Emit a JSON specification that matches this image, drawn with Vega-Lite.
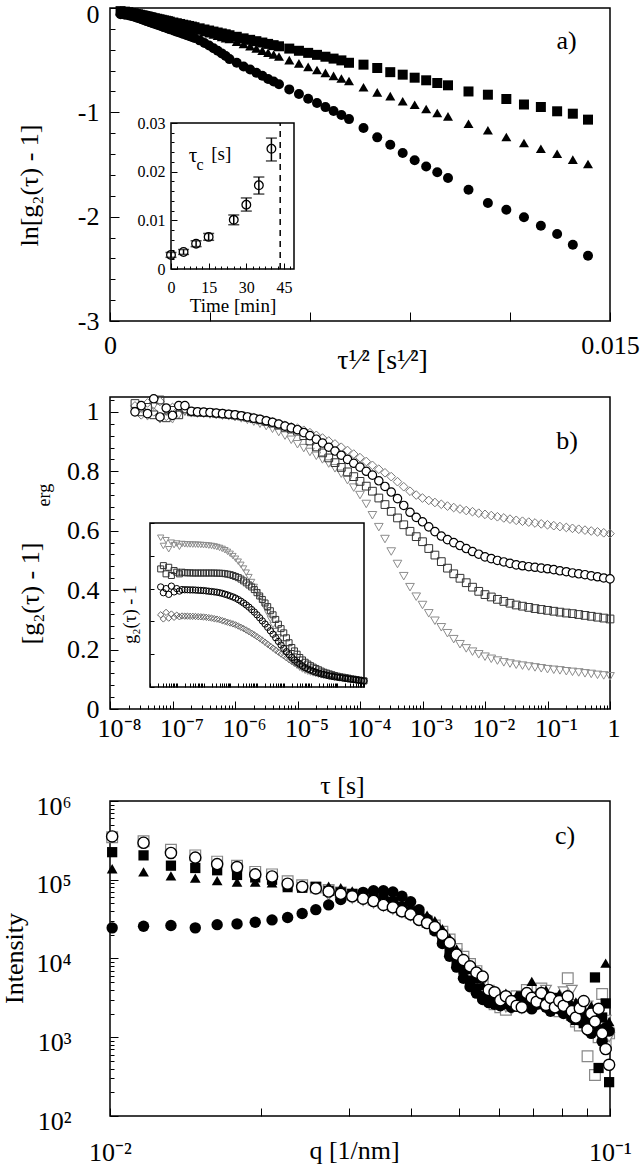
{
"$schema": "https://vega.github.io/schema/vega-lite/v6.json",
"background": "white",
"padding": {"left": 0, "top": 0, "right": 0, "bottom": 0},
"config": {
 "view": {"stroke": "black", "strokeWidth": 1.5},
 "font": "Liberation Serif",
 "axis": {"grid": false, "domain": false, "ticks": true, "tickColor": "black", "tickWidth": 1, "labelColor": "black", "titleColor": "black", "labelFont": "Liberation Serif", "titleFont": "Liberation Serif", "labelFontSize": 26, "titleFontSize": 26, "titleFontWeight": "normal", "labelFlush": false, "labelOverlap": false, "labelBound": false},
 "text": {"font": "Liberation Serif", "color": "black"}
},
"datasets": {
 "a": [
  {"x":0.000317,"sq":-0.03,"tr":-0.025,"ci":-0.06},{"x":0.000448,"sq":-0.035,"tr":-0.036,"ci":-0.065},{"x":0.000549,"sq":-0.04,"tr":-0.044,"ci":-0.07},{"x":0.000634,"sq":-0.048,"tr":-0.051,"ci":-0.076},
  {"x":0.000709,"sq":-0.05,"tr":-0.057,"ci":-0.082},{"x":0.000776,"sq":-0.058,"tr":-0.062,"ci":-0.088},{"x":0.000838,"sq":-0.06,"tr":-0.067,"ci":-0.095},{"x":0.000896,"sq":-0.065,"tr":-0.072,"ci":-0.101},
  {"x":0.000951,"sq":-0.07,"tr":-0.076,"ci":-0.107},{"x":0.001002,"sq":-0.072,"tr":-0.08,"ci":-0.113},{"x":0.001051,"sq":-0.077,"tr":-0.084,"ci":-0.119},{"x":0.001098,"sq":-0.08,"tr":-0.088,"ci":-0.124},
  {"x":0.001143,"sq":-0.083,"tr":-0.091,"ci":-0.129},{"x":0.001186,"sq":-0.087,"tr":-0.095,"ci":-0.134},{"x":0.001227,"sq":-0.09,"tr":-0.098,"ci":-0.139},{"x":0.001268,"sq":-0.093,"tr":-0.101,"ci":-0.143},
  {"x":0.001344,"sq":-0.098,"tr":-0.107,"ci":-0.152},{"x":0.001417,"sq":-0.103,"tr":-0.113,"ci":-0.16},{"x":0.001486,"sq":-0.108,"tr":-0.119,"ci":-0.168},{"x":0.001552,"sq":-0.113,"tr":-0.124,"ci":-0.175},
  {"x":0.001616,"sq":-0.118,"tr":-0.129,"ci":-0.183},{"x":0.001677,"sq":-0.122,"tr":-0.134,"ci":-0.19},{"x":0.001736,"sq":-0.126,"tr":-0.138,"ci":-0.196},{"x":0.001793,"sq":-0.131,"tr":-0.143,"ci":-0.203},
  {"x":0.001901,"sq":-0.139,"tr":-0.152,"ci":-0.215},{"x":0.002004,"sq":-0.146,"tr":-0.16,"ci":-0.227},{"x":0.002102,"sq":-0.153,"tr":-0.168,"ci":-0.238},{"x":0.002195,"sq":-0.16,"tr":-0.175,"ci":-0.248},
  {"x":0.002285,"sq":-0.166,"tr":-0.182,"ci":-0.258},{"x":0.002371,"sq":-0.172,"tr":-0.19,"ci":-0.268},{"x":0.002455,"sq":-0.178,"tr":-0.196,"ci":-0.278},{"x":0.002535,"sq":-0.184,"tr":-0.203,"ci":-0.287},
  {"x":0.002689,"sq":-0.195,"tr":-0.216,"ci":-0.31},{"x":0.002834,"sq":-0.206,"tr":-0.229,"ci":-0.335},{"x":0.002973,"sq":-0.216,"tr":-0.242,"ci":-0.36},{"x":0.003105,"sq":-0.226,"tr":-0.254,"ci":-0.385},
  {"x":0.003231,"sq":-0.235,"tr":-0.266,"ci":-0.41},{"x":0.003353,"sq":-0.244,"tr":-0.278,"ci":-0.435},{"x":0.003471,"sq":-0.252,"tr":-0.288,"ci":-0.46},{"x":0.003585,"sq":-0.261,"tr":-0.297,"ci":-0.49},
  {"x":0.003803,"sq":-0.276,"tr":-0.322,"ci":-0.525},{"x":0.004008,"sq":-0.291,"tr":-0.345,"ci":-0.56},{"x":0.004204,"sq":-0.305,"tr":-0.367,"ci":-0.59},{"x":0.004391,"sq":-0.318,"tr":-0.388,"ci":-0.62},
  {"x":0.00457,"sq":-0.331,"tr":-0.408,"ci":-0.65},{"x":0.004743,"sq":-0.344,"tr":-0.428,"ci":-0.68},{"x":0.004909,"sq":-0.356,"tr":-0.446,"ci":-0.705},{"x":0.00507,"sq":-0.367,"tr":-0.465,"ci":-0.73},
  {"x":0.005378,"sq":-0.389,"tr":-0.5,"ci":-0.78},{"x":0.005668,"sq":-0.41,"tr":-0.531,"ci":-0.825},{"x":0.005945,"sq":-0.43,"tr":-0.565,"ci":-0.87},{"x":0.00621,"sq":-0.449,"tr":-0.594,"ci":-0.91},
  {"x":0.006463,"sq":-0.467,"tr":-0.622,"ci":-0.95},{"x":0.006707,"sq":-0.485,"tr":-0.651,"ci":-0.987},{"x":0.006942,"sq":-0.502,"tr":-0.676,"ci":-1.025},{"x":0.00717,"sq":-0.525,"tr":-0.7,"ci":-1.065},
  {"x":0.007605,"sq":-0.543,"tr":-0.76,"ci":-1.15},{"x":0.008017,"sq":-0.575,"tr":-0.808,"ci":-1.24},{"x":0.008408,"sq":-0.615,"tr":-0.845,"ci":-1.31},{"x":0.008781,"sq":-0.639,"tr":-0.894,"ci":-1.39},
  {"x":0.00914,"sq":-0.668,"tr":-0.927,"ci":-1.46},{"x":0.009485,"sq":-0.693,"tr":-0.968,"ci":-1.52},{"x":0.009818,"sq":-0.719,"tr":-1.006,"ci":-1.575},{"x":0.01014,"sq":-0.741,"tr":-1.038,"ci":-1.629},
  {"x":0.010755,"sq":-0.8,"tr":-1.109,"ci":-1.742},{"x":0.011337,"sq":-0.831,"tr":-1.172,"ci":-1.869},{"x":0.01189,"sq":-0.872,"tr":-1.236,"ci":-1.933},{"x":0.012419,"sq":-0.925,"tr":-1.294,"ci":-2.006},
  {"x":0.012926,"sq":-0.949,"tr":-1.349,"ci":-2.087},{"x":0.013414,"sq":-0.99,"tr":-1.397,"ci":-2.166},{"x":0.013885,"sq":-1.013,"tr":-1.454,"ci":-2.269},{"x":0.01434,"sq":-1.07,"tr":-1.495,"ci":-2.374}
 ],
 "ai": [
  {"t":0,"v":0.0029,"lo":0.0024,"hi":0.0034},{"t":5,"v":0.0035,"lo":0.003,"hi":0.004},{"t":10,"v":0.0052,"lo":0.0046,"hi":0.0058},{"t":15,"v":0.0066,"lo":0.0059,"hi":0.0073},
  {"t":25,"v":0.0101,"lo":0.0091,"hi":0.0111},{"t":30,"v":0.0132,"lo":0.0119,"hi":0.0146},{"t":35,"v":0.0172,"lo":0.0154,"hi":0.0189},{"t":40,"v":0.0247,"lo":0.0222,"hi":0.0269}
 ],
 "b": [
  {"t":2.51e-8,"d":1.02,"c":1.0,"s":1.028,"v":1.0,"id":0.44,"ic":0.61,"is":0.72,"it":0.91},
  {"t":3.16e-8,"d":0.99,"c":1.021,"s":1.0,"v":1.01,"id":0.415,"ic":0.575,"is":0.74,"it":0.86},
  {"t":3.98e-8,"d":1.03,"c":0.994,"s":1.015,"v":0.985,"id":0.455,"ic":0.6,"is":0.69,"it":0.895},
  {"t":5.01e-8,"d":1.0,"c":1.044,"s":0.99,"v":1.02,"id":0.42,"ic":0.565,"is":0.73,"it":0.84},
  {"t":6.31e-8,"d":1.035,"c":0.983,"s":1.04,"v":0.975,"id":0.445,"ic":0.615,"is":0.68,"it":0.88},
  {"t":7.94e-8,"d":0.985,"c":1.013,"s":0.98,"v":1.0,"id":0.425,"ic":0.58,"is":0.71,"it":0.865},
  {"t":1e-7,"d":1.015,"c":0.988,"s":1.005,"v":0.975,"id":0.438,"ic":0.6,"is":0.7,"it":0.875},
  {"t":1.26e-7,"d":1.02,"c":1.021,"s":0.99,"v":0.99,"id":0.428,"ic":0.585,"is":0.69,"it":0.855},
  {"t":1.58e-7,"d":1.005,"c":1.021,"s":1.01,"v":1.0,"id":0.433,"ic":0.594,"is":0.7,"it":0.872},
  {"t":2e-7,"d":1.0,"c":1.002,"s":1.0,"v":0.995,"id":0.432,"ic":0.593,"is":0.697,"it":0.87},
  {"t":2.51e-7,"d":1.0,"c":1.0,"s":0.999,"v":0.994,"id":0.432,"ic":0.593,"is":0.696,"it":0.869},
  {"t":3.16e-7,"d":0.999,"c":0.999,"s":0.998,"v":0.993,"id":0.431,"ic":0.592,"is":0.696,"it":0.869},
  {"t":3.98e-7,"d":0.998,"c":0.998,"s":0.997,"v":0.991,"id":0.431,"ic":0.592,"is":0.695,"it":0.868},
  {"t":5.01e-7,"d":0.997,"c":0.996,"s":0.995,"v":0.989,"id":0.43,"ic":0.591,"is":0.695,"it":0.868},
  {"t":6.31e-7,"d":0.995,"c":0.994,"s":0.993,"v":0.987,"id":0.429,"ic":0.59,"is":0.695,"it":0.867},
  {"t":7.94e-7,"d":0.993,"c":0.992,"s":0.991,"v":0.985,"id":0.428,"ic":0.589,"is":0.695,"it":0.866},
  {"t":1e-6,"d":0.99,"c":0.99,"s":0.989,"v":0.982,"id":0.427,"ic":0.588,"is":0.695,"it":0.865},
  {"t":1.26e-6,"d":0.987,"c":0.987,"s":0.986,"v":0.978,"id":0.425,"ic":0.586,"is":0.695,"it":0.864},
  {"t":1.58e-6,"d":0.984,"c":0.983,"s":0.982,"v":0.973,"id":0.423,"ic":0.584,"is":0.695,"it":0.862},
  {"t":2e-6,"d":0.98,"c":0.979,"s":0.977,"v":0.967,"id":0.42,"ic":0.582,"is":0.695,"it":0.86},
  {"t":2.51e-6,"d":0.976,"c":0.975,"s":0.973,"v":0.96,"id":0.417,"ic":0.58,"is":0.695,"it":0.857},
  {"t":3.16e-6,"d":0.972,"c":0.97,"s":0.968,"v":0.952,"id":0.414,"ic":0.578,"is":0.694,"it":0.853},
  {"t":3.98e-6,"d":0.967,"c":0.965,"s":0.962,"v":0.943,"id":0.41,"ic":0.575,"is":0.694,"it":0.848},
  {"t":5.01e-6,"d":0.961,"c":0.959,"s":0.955,"v":0.932,"id":0.405,"ic":0.571,"is":0.693,"it":0.842},
  {"t":6.31e-6,"d":0.955,"c":0.952,"s":0.948,"v":0.92,"id":0.4,"ic":0.566,"is":0.691,"it":0.834},
  {"t":7.94e-6,"d":0.95,"c":0.946,"s":0.942,"v":0.906,"id":0.395,"ic":0.561,"is":0.688,"it":0.824},
  {"t":1e-5,"d":0.945,"c":0.94,"s":0.935,"v":0.891,"id":0.39,"ic":0.555,"is":0.685,"it":0.812},
  {"t":1.26e-5,"d":0.938,"c":0.93,"s":0.92,"v":0.878,"id":0.385,"ic":0.549,"is":0.68,"it":0.798},
  {"t":1.58e-5,"d":0.93,"c":0.92,"s":0.902,"v":0.865,"id":0.379,"ic":0.542,"is":0.674,"it":0.782},
  {"t":2e-5,"d":0.921,"c":0.908,"s":0.882,"v":0.852,"id":0.372,"ic":0.533,"is":0.667,"it":0.764},
  {"t":2.51e-5,"d":0.912,"c":0.895,"s":0.862,"v":0.84,"id":0.364,"ic":0.523,"is":0.658,"it":0.745},
  {"t":3.16e-5,"d":0.902,"c":0.881,"s":0.845,"v":0.826,"id":0.356,"ic":0.512,"is":0.647,"it":0.722},
  {"t":3.98e-5,"d":0.892,"c":0.868,"s":0.829,"v":0.81,"id":0.347,"ic":0.5,"is":0.635,"it":0.697},
  {"t":5.01e-5,"d":0.881,"c":0.854,"s":0.813,"v":0.792,"id":0.338,"ic":0.487,"is":0.622,"it":0.67},
  {"t":6.31e-5,"d":0.87,"c":0.84,"s":0.798,"v":0.77,"id":0.328,"ic":0.472,"is":0.61,"it":0.64},
  {"t":7.94e-5,"d":0.858,"c":0.827,"s":0.782,"v":0.745,"id":0.318,"ic":0.457,"is":0.594,"it":0.61},
  {"t":1e-4,"d":0.846,"c":0.814,"s":0.766,"v":0.72,"id":0.307,"ic":0.44,"is":0.575,"it":0.578},
  {"t":1.26e-4,"d":0.833,"c":0.8,"s":0.75,"v":0.69,"id":0.296,"ic":0.422,"is":0.555,"it":0.547},
  {"t":1.58e-4,"d":0.82,"c":0.787,"s":0.733,"v":0.652,"id":0.285,"ic":0.403,"is":0.534,"it":0.516},
  {"t":2e-4,"d":0.807,"c":0.768,"s":0.71,"v":0.612,"id":0.273,"ic":0.384,"is":0.512,"it":0.484},
  {"t":2.51e-4,"d":0.795,"c":0.749,"s":0.688,"v":0.572,"id":0.261,"ic":0.364,"is":0.49,"it":0.45},
  {"t":3.16e-4,"d":0.782,"c":0.73,"s":0.665,"v":0.53,"id":0.249,"ic":0.343,"is":0.465,"it":0.415},
  {"t":3.98e-4,"d":0.765,"c":0.708,"s":0.643,"v":0.488,"id":0.237,"ic":0.322,"is":0.44,"it":0.378},
  {"t":5.01e-4,"d":0.748,"c":0.685,"s":0.62,"v":0.447,"id":0.225,"ic":0.3,"is":0.412,"it":0.34},
  {"t":6.31e-4,"d":0.733,"c":0.662,"s":0.598,"v":0.41,"id":0.213,"ic":0.278,"is":0.383,"it":0.303},
  {"t":7.94e-4,"d":0.72,"c":0.645,"s":0.58,"v":0.378,"id":0.201,"ic":0.256,"is":0.356,"it":0.267},
  {"t":1e-3,"d":0.71,"c":0.63,"s":0.563,"v":0.35,"id":0.19,"ic":0.235,"is":0.33,"it":0.235},
  {"t":1.26e-3,"d":0.702,"c":0.613,"s":0.54,"v":0.322,"id":0.178,"ic":0.215,"is":0.3,"it":0.205},
  {"t":1.58e-3,"d":0.695,"c":0.597,"s":0.518,"v":0.297,"id":0.167,"ic":0.197,"is":0.27,"it":0.18},
  {"t":2e-3,"d":0.689,"c":0.582,"s":0.496,"v":0.275,"id":0.156,"ic":0.18,"is":0.241,"it":0.16},
  {"t":2.51e-3,"d":0.683,"c":0.57,"s":0.474,"v":0.255,"id":0.146,"ic":0.165,"is":0.22,"it":0.143},
  {"t":3.16e-3,"d":0.678,"c":0.56,"s":0.455,"v":0.235,"id":0.137,"ic":0.151,"is":0.2,"it":0.129},
  {"t":3.98e-3,"d":0.673,"c":0.55,"s":0.44,"v":0.218,"id":0.128,"ic":0.139,"is":0.18,"it":0.117},
  {"t":5.01e-3,"d":0.668,"c":0.54,"s":0.425,"v":0.204,"id":0.12,"ic":0.128,"is":0.165,"it":0.107},
  {"t":6.31e-3,"d":0.664,"c":0.53,"s":0.41,"v":0.193,"id":0.113,"ic":0.118,"is":0.151,"it":0.099},
  {"t":7.94e-3,"d":0.659,"c":0.521,"s":0.396,"v":0.184,"id":0.106,"ic":0.11,"is":0.14,"it":0.093},
  {"t":0.01,"d":0.655,"c":0.512,"s":0.385,"v":0.176,"id":0.1,"ic":0.103,"is":0.13,"it":0.088},
  {"t":0.0126,"d":0.651,"c":0.506,"s":0.377,"v":0.169,"id":0.095,"ic":0.096,"is":0.121,"it":0.083},
  {"t":0.0158,"d":0.647,"c":0.5,"s":0.369,"v":0.163,"id":0.09,"ic":0.09,"is":0.113,"it":0.079},
  {"t":0.02,"d":0.643,"c":0.495,"s":0.362,"v":0.157,"id":0.086,"ic":0.085,"is":0.105,"it":0.075},
  {"t":0.0251,"d":0.639,"c":0.49,"s":0.356,"v":0.153,"id":0.082,"ic":0.08,"is":0.097,"it":0.071},
  {"t":0.0316,"d":0.635,"c":0.485,"s":0.35,"v":0.149,"id":0.079,"ic":0.076,"is":0.09,"it":0.068},
  {"t":0.0398,"d":0.632,"c":0.482,"s":0.346,"v":0.146,"id":0.076,"ic":0.072,"is":0.085,"it":0.066},
  {"t":0.0501,"d":0.629,"c":0.479,"s":0.342,"v":0.143,"id":0.073,"ic":0.068,"is":0.08,"it":0.063},
  {"t":0.0631,"d":0.626,"c":0.477,"s":0.338,"v":0.14,"id":0.07,"ic":0.065,"is":0.075,"it":0.061},
  {"t":0.0794,"d":0.623,"c":0.474,"s":0.335,"v":0.137,"id":0.067,"ic":0.062,"is":0.07,"it":0.058},
  {"t":0.1,"d":0.62,"c":0.472,"s":0.332,"v":0.134,"id":0.064,"ic":0.06,"is":0.066,"it":0.056},
  {"t":0.126,"d":0.617,"c":0.469,"s":0.329,"v":0.132,"id":0.061,"ic":0.057,"is":0.062,"it":0.054},
  {"t":0.158,"d":0.614,"c":0.465,"s":0.326,"v":0.13,"id":0.058,"ic":0.055,"is":0.06,"it":0.052},
  {"t":0.2,"d":0.611,"c":0.462,"s":0.323,"v":0.127,"id":0.055,"ic":0.052,"is":0.057,"it":0.05},
  {"t":0.251,"d":0.608,"c":0.458,"s":0.321,"v":0.125,"id":0.052,"ic":0.05,"is":0.054,"it":0.048},
  {"t":0.316,"d":0.605,"c":0.455,"s":0.318,"v":0.123,"id":0.05,"ic":0.048,"is":0.05,"it":0.046},
  {"t":0.398,"d":0.602,"c":0.452,"s":0.315,"v":0.12,"id":0.047,"ic":0.046,"is":0.048,"it":0.044},
  {"t":0.501,"d":0.599,"c":0.448,"s":0.312,"v":0.118,"id":0.045,"ic":0.044,"is":0.045,"it":0.042},
  {"t":0.631,"d":0.596,"c":0.445,"s":0.309,"v":0.115,"id":0.042,"ic":0.042,"is":0.042,"it":0.04},
  {"t":0.794,"d":0.593,"c":0.441,"s":0.306,"v":0.113,"id":0.04,"ic":0.04,"is":0.04,"it":0.038},
  {"t":1,"d":0.59,"c":0.438,"s":0.303,"v":0.11,"id":0.037,"ic":0.037,"is":0.037,"it":0.037}
 ],
 "c": [
  {"q":0.0101,"fc":24500,"oc":355000,"fs":224000,"ft":138000,"os":347000,"ot":null},
  {"q":0.01167,"fc":25700,"oc":295000,"fs":204000,"ft":126000,"os":309000,"ot":null},
  {"q":0.01324,"fc":26300,"oc":219000,"fs":151000,"ft":112000,"os":240000,"ot":null},
  {"q":0.01481,"fc":24500,"oc":191000,"fs":141000,"ft":105000,"os":204000,"ot":null},
  {"q":0.01638,"fc":26900,"oc":158000,"fs":132000,"ft":97700,"os":170000,"ot":null},
  {"q":0.01795,"fc":27500,"oc":145000,"fs":115000,"ft":93300,"os":151000,"ot":null},
  {"q":0.01952,"fc":28800,"oc":117000,"fs":107000,"ft":93300,"os":126000,"ot":null},
  {"q":0.02109,"fc":30900,"oc":110000,"fs":100000,"ft":91200,"os":117000,"ot":null},
  {"q":0.02266,"fc":33100,"oc":89100,"fs":83200,"ft":79400,"os":95500,"ot":null},
  {"q":0.02423,"fc":37200,"oc":81300,"fs":79400,"ft":79400,"os":85100,"ot":null},
  {"q":0.0258,"fc":41700,"oc":77600,"fs":81300,"ft":79400,"os":79400,"ot":null},
  {"q":0.02737,"fc":47900,"oc":70800,"fs":72400,"ft":83200,"os":74100,"ot":63100},
  {"q":0.02894,"fc":56200,"oc":66100,"fs":69200,"ft":79400,"os":69200,"ot":60300},
  {"q":0.03051,"fc":63100,"oc":61700,"fs":66100,"ft":72400,"os":64600,"ot":57500},
  {"q":0.03208,"fc":69200,"oc":57500,"fs":63100,"ft":70800,"os":60300,"ot":53700},
  {"q":0.03365,"fc":72400,"oc":53700,"fs":61700,"ft":69200,"os":56200,"ot":50100},
  {"q":0.03522,"fc":72400,"oc":47900,"fs":57500,"ft":63100,"os":51300,"ot":45700},
  {"q":0.03679,"fc":70000,"oc":44700,"fs":52500,"ft":57500,"os":46800,"ot":41700},
  {"q":0.03836,"fc":61700,"oc":39800,"fs":45700,"ft":50100,"os":41700,"ot":38000},
  {"q":0.03993,"fc":52500,"oc":36300,"fs":39800,"ft":45700,"os":38000,"ot":34700},
  {"q":0.0415,"fc":41700,"oc":30900,"fs":33100,"ft":39800,"os":33100,"ot":30200},
  {"q":0.04307,"fc":31600,"oc":28200,"fs":28800,"ft":35500,"os":29500,"ot":27500},
  {"q":0.04464,"fc":22400,"oc":25100,"fs":23400,"ft":30200,"os":26300,"ot":24000},
  {"q":0.04621,"fc":15500,"oc":20000,"fs":17800,"ft":24000,"os":21900,"ot":20000},
  {"q":0.04778,"fc":10700,"oc":15800,"fs":13200,"ft":18200,"os":17400,"ot":15100},
  {"q":0.04935,"fc":7760,"oc":11200,"fs":9550,"ft":13200,"os":13200,"ot":11500},
  {"q":0.05092,"fc":5620,"oc":9550,"fs":7240,"ft":9550,"os":10500,"ot":9120},
  {"q":0.05249,"fc":4370,"oc":7940,"fs":5250,"ft":7240,"os":8510,"ot":7590},
  {"q":0.05406,"fc":3630,"oc":6610,"fs":4170,"ft":5500,"os":6920,"ot":6310},
  {"q":0.05563,"fc":3020,"oc":5890,"fs":3310,"ft":4570,"os":5250,"ot":5010},
  {"q":0.0572,"fc":2750,"oc":3980,"fs":3020,"ft":3800,"os":3550,"ot":3980},
  {"q":0.05877,"fc":2630,"oc":3720,"fs":2820,"ft":3550,"os":2630,"ot":3160},
  {"q":0.06034,"fc":2510,"oc":2950,"fs":3160,"ft":3310,"os":2400,"ot":2630},
  {"q":0.06191,"fc":2690,"oc":3310,"fs":2630,"ft":3630,"os":2240,"ot":2400},
  {"q":0.06348,"fc":2400,"oc":2880,"fs":2950,"ft":3160,"os":3020,"ot":2240},
  {"q":0.06505,"fc":2570,"oc":2510,"fs":2510,"ft":3390,"os":3310,"ot":2510},
  {"q":0.06662,"fc":2750,"oc":2400,"fs":3310,"ft":3020,"os":2820,"ot":2290},
  {"q":0.06819,"fc":2510,"oc":3630,"fs":2750,"ft":3800,"os":3980,"ot":2820},
  {"q":0.06976,"fc":2290,"oc":3160,"fs":3090,"ft":5130,"os":3160,"ot":2510},
  {"q":0.07133,"fc":2630,"oc":2820,"fs":2630,"ft":3550,"os":2750,"ot":3310},
  {"q":0.0729,"fc":2820,"oc":3630,"fs":3550,"ft":3160,"os":4170,"ot":3160},
  {"q":0.07447,"fc":2400,"oc":2570,"fs":2880,"ft":3980,"os":3020,"ot":3980},
  {"q":0.07604,"fc":2140,"oc":3160,"fs":2400,"ft":3310,"os":3020,"ot":3020},
  {"q":0.07761,"fc":2510,"oc":2400,"fs":3160,"ft":2950,"os":2510,"ot":2510},
  {"q":0.07918,"fc":2290,"oc":2880,"fs":2630,"ft":3550,"os":2140,"ot":2290},
  {"q":0.08075,"fc":2000,"oc":2510,"fs":2240,"ft":2630,"os":2820,"ot":3800},
  {"q":0.08232,"fc":2240,"oc":3310,"fs":2510,"ft":3160,"os":5620,"ot":2000},
  {"q":0.08389,"fc":1780,"oc":2140,"fs":1910,"ft":2400,"os":1910,"ot":3980},
  {"q":0.08546,"fc":2090,"oc":1780,"fs":1660,"ft":2820,"os":1580,"ot":2630},
  {"q":0.08703,"fc":1660,"oc":2340,"fs":2000,"ft":2000,"os":1410,"ot":1780},
  {"q":0.0886,"fc":1910,"oc":2880,"fs":1510,"ft":2240,"os":2240,"ot":2000},
  {"q":0.09017,"fc":1410,"oc":1260,"fs":1410,"ft":1780,"os":575,"ot":2510},
  {"q":0.09174,"fc":1120,"oc":2000,"fs":1200,"ft":2510,"os":1260,"ot":1580},
  {"q":0.09331,"fc":1580,"oc":1580,"fs":5750,"ft":1410,"os":331,"ot":1260},
  {"q":0.09488,"fc":1260,"oc":2290,"fs":407,"ft":2000,"os":1000,"ot":1910},
  {"q":0.09645,"fc":891,"oc":1120,"fs":1780,"ft":1260,"os":3550,"ot":1410},
  {"q":0.09802,"fc":1320,"oc":708,"fs":2690,"ft":8710,"os":794,"ot":1660},
  {"q":0.09959,"fc":1200,"oc":447,"fs":269,"ft":1580,"os":1120,"ot":1000}
 ]
},
"spacing": 0,
"bounds": "flush",
"vconcat": [
  {
   "width": 500, "height": 313,
   "resolve": {"scale": {"x": "independent", "y": "independent"}},
   "layer": [
    {
     "layer": [
      {"data": {"name": "a"}, "mark": {"type": "point", "shape": "square", "filled": true, "color": "black", "size": 100, "opacity": 1},
       "encoding": {
        "x": {"field": "x", "type": "quantitative", "title": "τ¹⁄²  [s¹⁄²]", "scale": {"domain": [0, 0.015], "nice": false, "zero": false},
          "axis": {"orient": "bottom", "values": [0, 0.003, 0.006, 0.009, 0.012, 0.015], "labelExpr": "datum.value == 0 ? '0' : (datum.value > 0.0149 ? '0.015' : '')", "tickSize": -9, "labelPadding": 20, "labelBaseline": "top", "labelAlign": "center", "titleFontSize": 28, "titleX": 272, "titleY": 47, "titleBaseline": "alphabetic", "titleAlign": "center"}},
        "y": {"field": "sq", "type": "quantitative", "title": "ln[g₂(τ) - 1]", "scale": {"domain": [-3, 0], "nice": false, "zero": false},
          "axis": {"orient": "left", "values": [-3, -2, -1, 0], "labelExpr": "datum.value < -0.5 ? '-' + round(-datum.value) : '0'", "tickSize": -9, "labelPadding": 20, "labelBaseline": "middle", "labelAlign": "right", "labelOffset": {"condition": {"test": "datum.value > -0.5", "value": 6}, "value": 0}, "titleX": -81, "titleY": 177, "titleAngle": 270, "titleBaseline": "middle", "titleAlign": "center"}}}},
      {"data": {"name": "a"}, "mark": {"type": "point", "shape": "triangle-up", "filled": true, "color": "black", "size": 100, "opacity": 1},
       "encoding": {
        "x": {"field": "x", "type": "quantitative", "title": "τ¹⁄²  [s¹⁄²]", "scale": {"domain": [0, 0.015], "nice": false, "zero": false}},
        "y": {"field": "tr", "type": "quantitative", "title": "ln[g₂(τ) - 1]", "scale": {"domain": [-3, 0], "nice": false, "zero": false}}}},
      {"data": {"name": "a"}, "mark": {"type": "point", "shape": "circle", "filled": true, "color": "black", "size": 100, "opacity": 1},
       "encoding": {
        "x": {"field": "x", "type": "quantitative", "title": "τ¹⁄²  [s¹⁄²]", "scale": {"domain": [0, 0.015], "nice": false, "zero": false}},
        "y": {"field": "ci", "type": "quantitative", "title": "ln[g₂(τ) - 1]", "scale": {"domain": [-3, 0], "nice": false, "zero": false}}}},
      {"data": {"values": [{}]}, "mark": {"type": "text", "text": "a)", "fontSize": 26, "align": "center", "baseline": "middle"},
       "encoding": {
        "x": {"datum": 0.0137, "type": "quantitative", "title": "τ¹⁄²  [s¹⁄²]", "scale": {"domain": [0, 0.015], "nice": false, "zero": false}},
        "y": {"datum": -0.32, "type": "quantitative", "title": "ln[g₂(τ) - 1]", "scale": {"domain": [-3, 0], "nice": false, "zero": false}}}}
     ]
    },
    {"data": {"values": [{}]}, "mark": {"type": "point", "opacity": 0},
     "encoding": {
      "x": {"datum": 0, "type": "quantitative", "title": null, "scale": {"domain": [0, 0.015], "nice": false, "zero": false}, "axis": null},
      "y": {"datum": 0, "type": "quantitative", "title": null, "scale": {"domain": [-3, 0], "nice": false, "zero": false},
        "axis": {"orient": "left", "values": [-2.8, -2.6, -2.4, -2.2, -1.8, -1.6, -1.4, -1.2, -0.8, -0.6, -0.4, -0.2], "labels": false, "tickSize": -5}}}},
    {
     "layer": [
      {"data": {"values": [{}]}, "mark": {"type": "rect", "fill": "white", "stroke": "black", "strokeWidth": 1.5},
       "encoding": {
        "x": {"datum": 0, "type": "quantitative", "title": "Time  [min]", "scale": {"domain": [0, 49], "range": [61, 184], "nice": false, "zero": false},
          "axis": {"orient": "bottom", "zindex": 1, "offset": -52, "values": [0, 15, 30, 45], "tickSize": -6, "labelPadding": 16, "labelFontSize": 16, "labelBaseline": "top", "titleFontSize": 19, "titleY": 42, "titleBaseline": "alphabetic"}},
        "x2": {"datum": 49},
        "y": {"datum": 0, "type": "quantitative", "title": null, "scale": {"domain": [0, 0.03], "range": [261, 115], "nice": false, "zero": false},
          "axis": {"orient": "left", "zindex": 1, "offset": -61, "values": [0, 0.01, 0.02, 0.03], "labelExpr": "datum.value == 0 ? '0' : format(datum.value, '.2f')", "tickSize": -6, "labelPadding": 12, "labelFontSize": 16, "labelBaseline": "middle"}},
        "y2": {"datum": 0.03}}},
      {"data": {"values": [{}]}, "mark": {"type": "rule", "color": "black", "strokeWidth": 1.5, "strokeDash": [6, 5]},
       "encoding": {
        "x": {"datum": 43.5, "type": "quantitative", "title": "Time  [min]", "scale": {"domain": [0, 49], "range": [61, 184], "nice": false, "zero": false}},
        "y": {"datum": 0, "type": "quantitative", "title": null, "scale": {"domain": [0, 0.03], "range": [261, 115], "nice": false, "zero": false}},
        "y2": {"datum": 0.03}}},
      {"data": {"name": "ai"}, "mark": {"type": "rule", "color": "black", "strokeWidth": 1.5},
       "encoding": {
        "x": {"field": "t", "type": "quantitative", "title": "Time  [min]", "scale": {"domain": [0, 49], "range": [61, 184], "nice": false, "zero": false}},
        "y": {"field": "lo", "type": "quantitative", "title": null, "scale": {"domain": [0, 0.03], "range": [261, 115], "nice": false, "zero": false}},
        "y2": {"field": "hi"}}},
      {"data": {"name": "ai"}, "mark": {"type": "tick", "orient": "horizontal", "color": "black", "thickness": 1.5, "size": 11},
       "encoding": {
        "x": {"field": "t", "type": "quantitative", "title": "Time  [min]", "scale": {"domain": [0, 49], "range": [61, 184], "nice": false, "zero": false}},
        "y": {"field": "lo", "type": "quantitative", "title": null, "scale": {"domain": [0, 0.03], "range": [261, 115], "nice": false, "zero": false}}}},
      {"data": {"name": "ai"}, "mark": {"type": "tick", "orient": "horizontal", "color": "black", "thickness": 1.5, "size": 11},
       "encoding": {
        "x": {"field": "t", "type": "quantitative", "title": "Time  [min]", "scale": {"domain": [0, 49], "range": [61, 184], "nice": false, "zero": false}},
        "y": {"field": "hi", "type": "quantitative", "title": null, "scale": {"domain": [0, 0.03], "range": [261, 115], "nice": false, "zero": false}}}},
      {"data": {"name": "ai"}, "mark": {"type": "point", "shape": "circle", "filled": false, "color": "black", "strokeWidth": 1.3, "size": 75, "opacity": 1},
       "encoding": {
        "x": {"field": "t", "type": "quantitative", "title": "Time  [min]", "scale": {"domain": [0, 49], "range": [61, 184], "nice": false, "zero": false}},
        "y": {"field": "v", "type": "quantitative", "title": null, "scale": {"domain": [0, 0.03], "range": [261, 115], "nice": false, "zero": false}}}},
      {"data": {"values": [{}]}, "mark": {"type": "text", "text": "τ", "fontSize": 21, "align": "center", "baseline": "middle"},
       "encoding": {
        "x": {"datum": 8.8, "type": "quantitative", "title": "Time  [min]", "scale": {"domain": [0, 49], "range": [61, 184], "nice": false, "zero": false}},
        "y": {"datum": 0.0233, "type": "quantitative", "title": null, "scale": {"domain": [0, 0.03], "range": [261, 115], "nice": false, "zero": false}}}},
      {"data": {"values": [{}]}, "mark": {"type": "text", "text": "c", "fontSize": 16, "align": "center", "baseline": "middle"},
       "encoding": {
        "x": {"datum": 11.6, "type": "quantitative", "title": "Time  [min]", "scale": {"domain": [0, 49], "range": [61, 184], "nice": false, "zero": false}},
        "y": {"datum": 0.0214, "type": "quantitative", "title": null, "scale": {"domain": [0, 0.03], "range": [261, 115], "nice": false, "zero": false}}}},
      {"data": {"values": [{}]}, "mark": {"type": "text", "text": "[s]", "fontSize": 19, "align": "center", "baseline": "middle"},
       "encoding": {
        "x": {"datum": 20, "type": "quantitative", "title": "Time  [min]", "scale": {"domain": [0, 49], "range": [61, 184], "nice": false, "zero": false}},
        "y": {"datum": 0.0237, "type": "quantitative", "title": null, "scale": {"domain": [0, 0.03], "range": [261, 115], "nice": false, "zero": false}}}}
     ]
    },
    {"data": {"values": [{}]}, "mark": {"type": "point", "opacity": 0},
     "encoding": {
      "x": {"datum": 0, "type": "quantitative", "title": null, "scale": {"domain": [0, 49], "range": [61, 184], "nice": false, "zero": false},
        "axis": {"orient": "bottom", "zindex": 1, "offset": -52, "values": [2.5, 5, 7.5, 10, 12.5, 17.5, 20, 22.5, 25, 27.5, 32.5, 35, 37.5, 40, 42.5, 47.5], "labels": false, "tickSize": -3}},
      "y": {"datum": 0, "type": "quantitative", "title": null, "scale": {"domain": [0, 0.03], "range": [261, 115], "nice": false, "zero": false},
        "axis": {"orient": "left", "zindex": 1, "offset": -61, "values": [0.002, 0.004, 0.006, 0.008, 0.012, 0.014, 0.016, 0.018, 0.022, 0.024, 0.026, 0.028], "labels": false, "tickSize": -3}}}}
   ]
  },
  {"width": 500, "height": 76, "view": {"stroke": null}, "data": {"values": [{}]}, "mark": {"type": "point", "opacity": 0}, "encoding": {}},
  {
   "width": 500, "height": 312,
   "resolve": {"scale": {"x": "independent", "y": "independent"}},
   "layer": [
    {
     "layer": [
      {"data": {"name": "b"}, "mark": {"type": "point", "shape": "triangle-down", "filled": false, "color": "#8c8c8c", "strokeWidth": 1, "size": 75, "opacity": 1},
       "encoding": {
        "x": {"field": "t", "type": "quantitative", "title": "τ  [s]", "scale": {"type": "log", "domain": [1e-8, 1], "nice": false},
          "axis": {"orient": "bottom", "values": [1e-8, 1e-7, 1e-6, 1e-5, 0.0001, 0.001, 0.01, 0.1, 1],
            "labelExpr": "datum.value > 0.5 ? '1' : '10⁻' + substring('⁰¹²³⁴⁵⁶⁷⁸⁹', -round(log(datum.value) / LN10), 1 - round(log(datum.value) / LN10))",
            "tickSize": -8, "labelPadding": 14, "labelBaseline": "top", "labelAlign": "left", "labelOffset": {"condition": {"test": "datum.value > 0.5", "value": -3}, "value": -13},
            "titleX": 232, "titleY": 84, "titleBaseline": "alphabetic", "titleAlign": "center"}},
        "y": {"field": "v", "type": "quantitative", "title": "[g₂(τ) - 1]", "scale": {"domain": [0, 1.05], "nice": false, "zero": false},
          "axis": {"orient": "left", "values": [0, 0.2, 0.4, 0.6, 0.8, 1],
            "labelExpr": "datum.value == 0 ? '0' : (datum.value > 0.99 ? '1' : format(datum.value, '.1f'))",
            "tickSize": -8, "labelPadding": 19, "labelBaseline": "middle", "labelAlign": "right", "titleX": -80, "titleY": 196, "titleAngle": 270, "titleBaseline": "middle", "titleAlign": "center"}}}},
      {"data": {"name": "b"}, "mark": {"type": "point", "shape": "diamond", "filled": false, "color": "#777777", "strokeWidth": 1, "size": 75, "opacity": 1},
       "encoding": {
        "x": {"field": "t", "type": "quantitative", "title": "τ  [s]", "scale": {"type": "log", "domain": [1e-8, 1], "nice": false}},
        "y": {"field": "d", "type": "quantitative", "title": "[g₂(τ) - 1]", "scale": {"domain": [0, 1.05], "nice": false, "zero": false}}}},
      {"data": {"name": "b"}, "mark": {"type": "point", "shape": "square", "filled": false, "color": "#333333", "strokeWidth": 1, "size": 60, "opacity": 1},
       "encoding": {
        "x": {"field": "t", "type": "quantitative", "title": "τ  [s]", "scale": {"type": "log", "domain": [1e-8, 1], "nice": false}},
        "y": {"field": "s", "type": "quantitative", "title": "[g₂(τ) - 1]", "scale": {"domain": [0, 1.05], "nice": false, "zero": false}}}},
      {"data": {"name": "b"}, "mark": {"type": "point", "shape": "circle", "filled": true, "fill": "white", "stroke": "black", "strokeWidth": 1.2, "size": 70, "opacity": 1},
       "encoding": {
        "x": {"field": "t", "type": "quantitative", "title": "τ  [s]", "scale": {"type": "log", "domain": [1e-8, 1], "nice": false}},
        "y": {"field": "c", "type": "quantitative", "title": "[g₂(τ) - 1]", "scale": {"domain": [0, 1.05], "nice": false, "zero": false}}}},
      {"data": {"values": [{}]}, "mark": {"type": "text", "text": "erg", "fontSize": 18, "angle": 270, "align": "center", "baseline": "middle"},
       "encoding": {
        "x": {"datum": 9.1e-10, "type": "quantitative", "title": "τ  [s]", "scale": {"type": "log", "domain": [1e-8, 1], "nice": false}},
        "y": {"datum": 0.72, "type": "quantitative", "title": "[g₂(τ) - 1]", "scale": {"domain": [0, 1.05], "nice": false, "zero": false}}}},
      {"data": {"values": [{}]}, "mark": {"type": "text", "text": "b)", "fontSize": 26, "align": "center", "baseline": "middle"},
       "encoding": {
        "x": {"datum": 0.205, "type": "quantitative", "title": "τ  [s]", "scale": {"type": "log", "domain": [1e-8, 1], "nice": false}},
        "y": {"datum": 0.902, "type": "quantitative", "title": "[g₂(τ) - 1]", "scale": {"domain": [0, 1.05], "nice": false, "zero": false}}}}
     ]
    },
    {"data": {"values": [{}]}, "mark": {"type": "point", "opacity": 0},
     "encoding": {
      "x": {"datum": 1, "type": "quantitative", "title": null, "scale": {"type": "log", "domain": [1e-8, 1], "nice": false},
        "axis": {"orient": "bottom", "labels": false, "tickSize": -4, "values": [2e-8,3e-8,4e-8,5e-8,6e-8,7e-8,8e-8,9e-8,2e-7,3e-7,4e-7,5e-7,6e-7,7e-7,8e-7,9e-7,2e-6,3e-6,4e-6,5e-6,6e-6,7e-6,8e-6,9e-6,2e-5,3e-5,4e-5,5e-5,6e-5,7e-5,8e-5,9e-5,0.0002,0.0003,0.0004,0.0005,0.0006,0.0007,0.0008,0.0009,0.002,0.003,0.004,0.005,0.006,0.007,0.008,0.009,0.02,0.03,0.04,0.05,0.06,0.07,0.08,0.09,0.2,0.3,0.4,0.5,0.6,0.7,0.8,0.9]}},
      "y": {"datum": 0, "type": "quantitative", "title": null, "scale": {"domain": [0, 1.05], "nice": false, "zero": false},
        "axis": {"orient": "left", "labels": false, "tickSize": -4, "values": [0.04,0.08,0.12,0.16,0.24,0.28,0.32,0.36,0.44,0.48,0.52,0.56,0.64,0.68,0.72,0.76,0.84,0.88,0.92,0.96,1.04]}}}},
    {
     "layer": [
      {"data": {"values": [{}]}, "mark": {"type": "rect", "fill": "white", "stroke": "black", "strokeWidth": 1.5},
       "encoding": {
        "x": {"datum": 1e-8, "type": "quantitative", "title": null, "scale": {"type": "log", "domain": [1e-8, 1], "range": [40, 254], "nice": false},
          "axis": {"orient": "bottom", "zindex": 1, "offset": -22, "labels": false, "tickSize": -4, "values": [1e-8,2e-8,3e-8,4e-8,5e-8,6e-8,7e-8,8e-8,9e-8,1e-7,2e-7,3e-7,4e-7,5e-7,6e-7,7e-7,8e-7,9e-7,1e-6,2e-6,3e-6,4e-6,5e-6,6e-6,7e-6,8e-6,9e-6,1e-5,2e-5,3e-5,4e-5,5e-5,6e-5,7e-5,8e-5,9e-5,0.0001,0.0002,0.0003,0.0004,0.0005,0.0006,0.0007,0.0008,0.0009,0.001,0.002,0.003,0.004,0.005,0.006,0.007,0.008,0.009,0.01,0.02,0.03,0.04,0.05,0.06,0.07,0.08,0.09,0.1,0.2,0.3,0.4,0.5,0.6,0.7,0.8,0.9,1]}},
        "x2": {"datum": 1},
        "y": {"datum": 0, "type": "quantitative", "title": "g₂(τ) - 1", "scale": {"domain": [0, 1], "range": [290, 126], "nice": false, "zero": false},
          "axis": {"orient": "left", "zindex": 1, "offset": -40, "labels": false, "tickSize": -4, "values": [0,0.05,0.1,0.15,0.2,0.25,0.3,0.35,0.4,0.45,0.5,0.55,0.6,0.65,0.7,0.75,0.8,0.85,0.9,0.95,1], "titleFontSize": 18, "titleX": -20, "titleY": 217, "titleAngle": 270, "titleBaseline": "middle", "titleAlign": "center"}},
        "y2": {"datum": 1}}},
      {"data": {"name": "b"}, "mark": {"type": "point", "shape": "triangle-down", "filled": false, "color": "#8c8c8c", "strokeWidth": 1, "size": 40, "opacity": 1},
       "encoding": {"x": {"field": "t", "type": "quantitative", "title": null, "scale": {"type": "log", "domain": [1e-8, 1], "range": [40, 254], "nice": false}},
                    "y": {"field": "it", "type": "quantitative", "title": "g₂(τ) - 1", "scale": {"domain": [0, 1], "range": [290, 126], "nice": false, "zero": false}}}},
      {"data": {"name": "b"}, "mark": {"type": "point", "shape": "diamond", "filled": false, "color": "#666666", "strokeWidth": 1, "size": 40, "opacity": 1},
       "encoding": {"x": {"field": "t", "type": "quantitative", "title": null, "scale": {"type": "log", "domain": [1e-8, 1], "range": [40, 254], "nice": false}},
                    "y": {"field": "id", "type": "quantitative", "title": "g₂(τ) - 1", "scale": {"domain": [0, 1], "range": [290, 126], "nice": false, "zero": false}}}},
      {"data": {"name": "b"}, "mark": {"type": "point", "shape": "square", "filled": false, "color": "#333333", "strokeWidth": 1, "size": 36, "opacity": 1},
       "encoding": {"x": {"field": "t", "type": "quantitative", "title": null, "scale": {"type": "log", "domain": [1e-8, 1], "range": [40, 254], "nice": false}},
                    "y": {"field": "is", "type": "quantitative", "title": "g₂(τ) - 1", "scale": {"domain": [0, 1], "range": [290, 126], "nice": false, "zero": false}}}},
      {"data": {"name": "b"}, "mark": {"type": "point", "shape": "circle", "filled": false, "color": "black", "strokeWidth": 1, "size": 40, "opacity": 1},
       "encoding": {"x": {"field": "t", "type": "quantitative", "title": null, "scale": {"type": "log", "domain": [1e-8, 1], "range": [40, 254], "nice": false}},
                    "y": {"field": "ic", "type": "quantitative", "title": "g₂(τ) - 1", "scale": {"domain": [0, 1], "range": [290, 126], "nice": false, "zero": false}}}}
     ]
    }
   ]
  },
  {"width": 500, "height": 92, "view": {"stroke": null}, "data": {"values": [{}]}, "mark": {"type": "point", "opacity": 0}, "encoding": {}},
  {
  "width": 500, "height": 315,
  "resolve": {"scale": {"x": "independent", "y": "independent"}},
  "layer": [
   {
    "layer": [
     {"data": {"name": "c"}, "mark": {"type": "point", "shape": "square", "filled": true, "fill": "white", "stroke": "#888888", "strokeWidth": 1.2, "size": 115, "opacity": 1},
      "encoding": {
       "x": {"field": "q", "type": "quantitative", "title": "q  [1/nm]", "scale": {"type": "log", "domain": [0.01, 0.1], "nice": false},
         "axis": {"orient": "bottom", "values": [0.01, 0.1], "labelExpr": "datum.value < 0.015 ? '10⁻²' : '10⁻¹'", "tickSize": -8, "labelPadding": 31, "labelBaseline": "top", "labelAlign": "center", "titleX": 244, "titleY": 42, "titleBaseline": "alphabetic", "titleAlign": "center"}},
       "y": {"field": "os", "type": "quantitative", "title": "Intensity", "scale": {"type": "log", "domain": [100, 1000000], "nice": false},
         "axis": {"orient": "left", "values": [100, 1000, 10000, 100000, 1000000],
           "labelExpr": "'10' + substring('⁰¹²³⁴⁵⁶⁷⁸⁹', round(log(datum.value) / LN10), round(log(datum.value) / LN10) + 1)",
           "tickSize": -8, "labelPadding": 47, "labelBaseline": "middle", "labelAlign": "right", "labelOffset": 5, "titleX": -96, "titleY": 157, "titleAngle": 270, "titleBaseline": "middle", "titleAlign": "center"}}}},
     {"data": {"name": "c"}, "mark": {"type": "point", "shape": "triangle-down", "filled": true, "fill": "white", "stroke": "#888888", "strokeWidth": 1.2, "size": 115, "opacity": 1},
      "encoding": {
       "x": {"field": "q", "type": "quantitative", "title": "q  [1/nm]", "scale": {"type": "log", "domain": [0.01, 0.1], "nice": false}},
       "y": {"field": "ot", "type": "quantitative", "title": "Intensity", "scale": {"type": "log", "domain": [100, 1000000], "nice": false}}}},
     {"data": {"name": "c"}, "mark": {"type": "point", "shape": "triangle-up", "filled": true, "color": "black", "size": 115, "opacity": 1},
      "encoding": {
       "x": {"field": "q", "type": "quantitative", "title": "q  [1/nm]", "scale": {"type": "log", "domain": [0.01, 0.1], "nice": false}},
       "y": {"field": "ft", "type": "quantitative", "title": "Intensity", "scale": {"type": "log", "domain": [100, 1000000], "nice": false}}}},
     {"data": {"name": "c"}, "mark": {"type": "point", "shape": "square", "filled": true, "color": "black", "size": 105, "opacity": 1},
      "encoding": {
       "x": {"field": "q", "type": "quantitative", "title": "q  [1/nm]", "scale": {"type": "log", "domain": [0.01, 0.1], "nice": false}},
       "y": {"field": "fs", "type": "quantitative", "title": "Intensity", "scale": {"type": "log", "domain": [100, 1000000], "nice": false}}}},
     {"data": {"name": "c"}, "mark": {"type": "point", "shape": "circle", "filled": true, "color": "black", "size": 130, "opacity": 1},
      "encoding": {
       "x": {"field": "q", "type": "quantitative", "title": "q  [1/nm]", "scale": {"type": "log", "domain": [0.01, 0.1], "nice": false}},
       "y": {"field": "fc", "type": "quantitative", "title": "Intensity", "scale": {"type": "log", "domain": [100, 1000000], "nice": false}}}},
     {"data": {"name": "c"}, "mark": {"type": "point", "shape": "circle", "filled": true, "fill": "white", "stroke": "black", "strokeWidth": 1.4, "size": 125, "opacity": 1},
      "encoding": {
       "x": {"field": "q", "type": "quantitative", "title": "q  [1/nm]", "scale": {"type": "log", "domain": [0.01, 0.1], "nice": false}},
       "y": {"field": "oc", "type": "quantitative", "title": "Intensity", "scale": {"type": "log", "domain": [100, 1000000], "nice": false}}}},
     {"data": {"values": [{}]}, "mark": {"type": "text", "text": "c)", "fontSize": 26, "align": "center", "baseline": "middle"},
      "encoding": {
       "x": {"datum": 0.0813, "type": "quantitative", "title": "q  [1/nm]", "scale": {"type": "log", "domain": [0.01, 0.1], "nice": false}},
       "y": {"datum": 360000, "type": "quantitative", "title": "Intensity", "scale": {"type": "log", "domain": [100, 1000000], "nice": false}}}}
    ]
   },
   {"data": {"values": [{}]}, "mark": {"type": "point", "opacity": 0},
    "encoding": {
     "x": {"datum": 0.05, "type": "quantitative", "title": null, "scale": {"type": "log", "domain": [0.01, 0.1], "nice": false},
       "axis": {"orient": "bottom", "labels": false, "tickSize": -8, "values": [0.02, 0.03, 0.04, 0.05, 0.06, 0.07, 0.08, 0.09]}},
     "y": {"datum": 1000, "type": "quantitative", "title": null, "scale": {"type": "log", "domain": [100, 1000000], "nice": false},
       "axis": {"orient": "left", "labels": false, "tickSize": -4, "values": [200,300,400,500,600,700,800,900,2000,3000,4000,5000,6000,7000,8000,9000,20000,30000,40000,50000,60000,70000,80000,90000,200000,300000,400000,500000,600000,700000,800000,900000]}}}}
  ]
 }
]
}
